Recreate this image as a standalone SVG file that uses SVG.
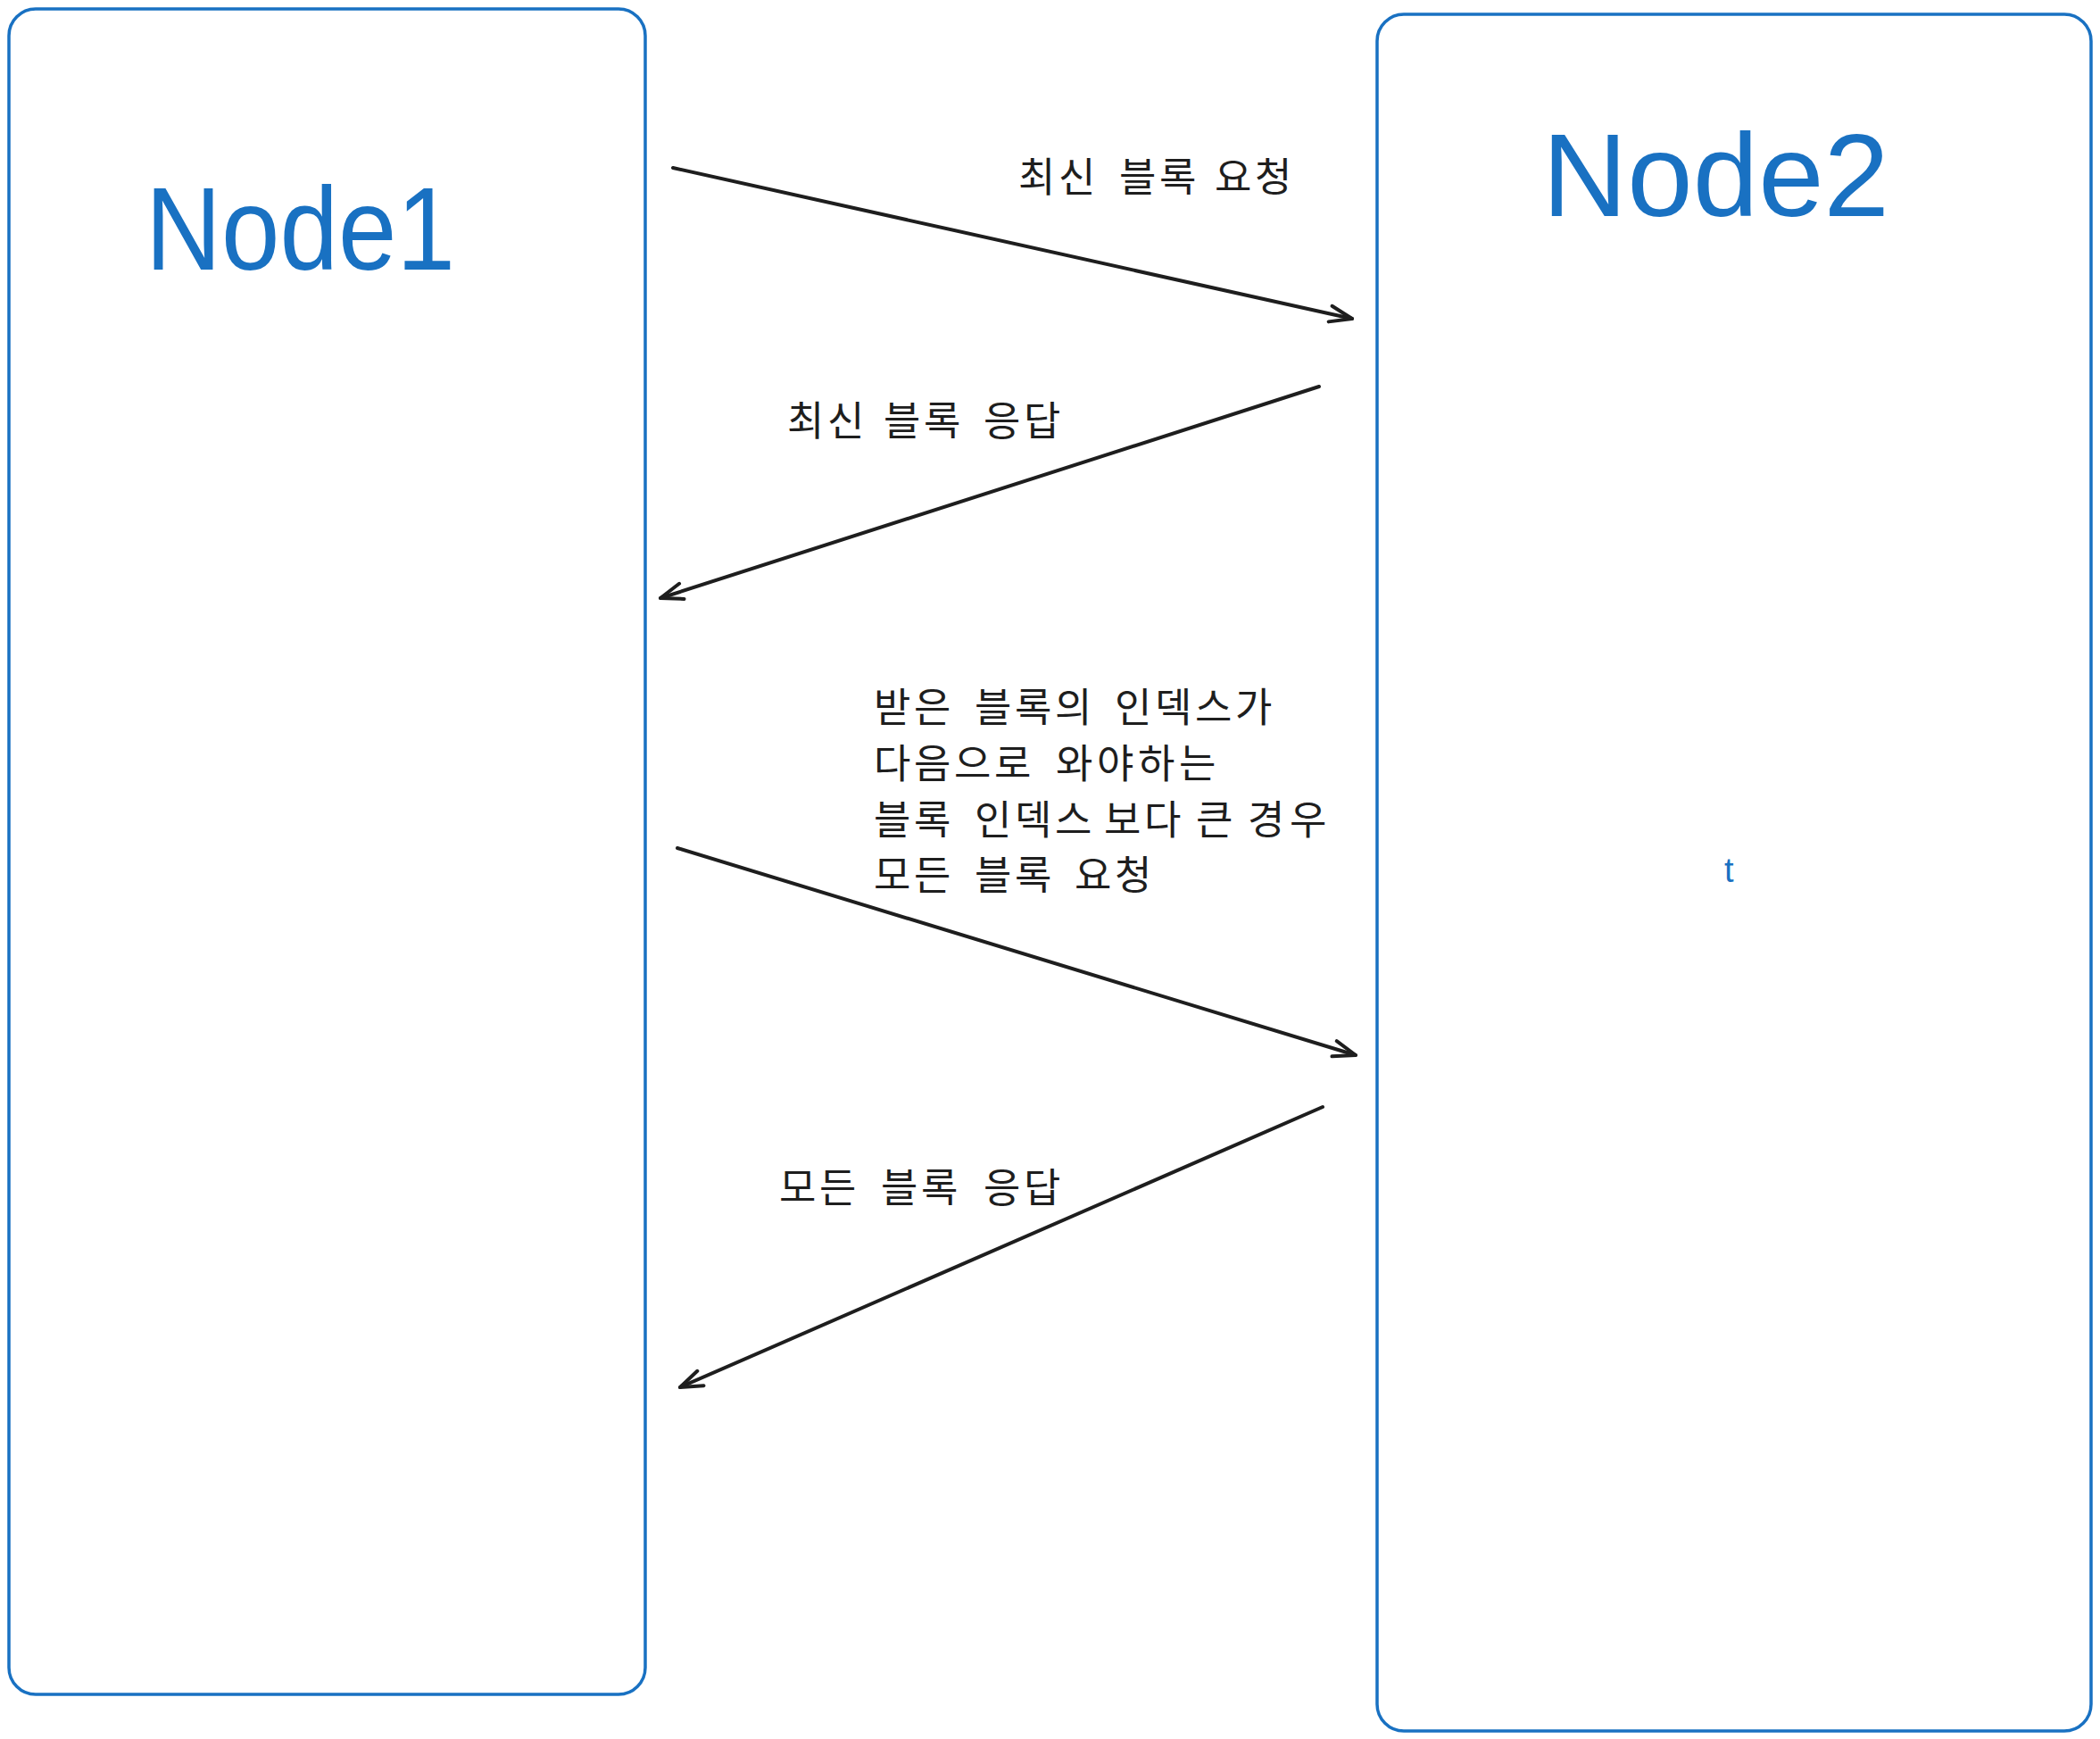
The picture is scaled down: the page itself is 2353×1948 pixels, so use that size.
<svg xmlns="http://www.w3.org/2000/svg" width="2353" height="1948" viewBox="0 0 2353 1948">
<style>
.node{fill:#ffffff;stroke:#1971c2;stroke-width:3.5}
.title{font-family:"Liberation Sans",Arial,sans-serif;font-size:132px;fill:#1971c2}
.small{font-family:"Liberation Sans",Arial,sans-serif;font-size:38px;fill:#1971c2}
.lbl{font-family:"Noto Sans CJK KR","Noto Sans",sans-serif;font-size:45px;fill:#1e1e1e}
.conn{stroke:#1e1e1e;stroke-width:4;fill:none;stroke-linecap:round}
</style>
<defs>
<marker id="ah" markerUnits="userSpaceOnUse" viewBox="-32 -16 40 32" markerWidth="40" markerHeight="32" refX="0" refY="0" orient="auto" overflow="visible">
<path d="M-25,-9 L0,0 L-25,9" fill="none" stroke="#1e1e1e" stroke-width="4" stroke-linecap="round" stroke-linejoin="round"/>
</marker>
</defs>
<rect width="2353" height="1948" fill="#ffffff"/>
<g id="node1">
<rect class="node" x="10" y="10" width="713" height="1888" rx="30" ry="30"/>
<text class="title" x="163" y="302" textLength="347" lengthAdjust="spacingAndGlyphs">Node1</text>
</g>
<g id="node2">
<rect class="node" x="1543" y="16" width="800" height="1923" rx="30" ry="30"/>
<text class="title" x="1728" y="242" textLength="389" lengthAdjust="spacingAndGlyphs">Node2</text>
<text class="small" x="1932" y="988">t</text>
</g>
<g id="connectors">
<line class="conn" x1="754" y1="188" x2="1515" y2="357" marker-end="url(#ah)"/>
<line class="conn" x1="1478" y1="433" x2="740" y2="670" marker-end="url(#ah)"/>
<line class="conn" x1="759" y1="950" x2="1519" y2="1182" marker-end="url(#ah)"/>
<line class="conn" x1="1482" y1="1240" x2="762" y2="1554" marker-end="url(#ah)"/>
</g>
<g id="labels">
<text class="lbl" y="215" x="1141 1186 1231 1254 1299 1344 1361 1406">최신 블록 요청</text>
<text class="lbl" y="488" x="882 927 972 990 1035 1080 1102 1147">최신 블록 응답</text>
<text class="lbl" y="809" x="979 1024 1069 1092 1137 1182 1227 1249 1294 1339 1384">받은 블록의 인덱스가</text>
<text class="lbl" y="872" x="979 1024 1069 1114 1159 1183 1229 1275 1321">다음으로 와야하는</text>
<text class="lbl" y="935" x="979 1024 1069 1092 1137 1182 1227 1237 1282 1327 1340 1385 1398 1445">블록 인덱스 보다 큰 경우</text>
<text class="lbl" y="997" x="979 1024 1069 1092 1137 1182 1204 1249">모든 블록 요청</text>
<text class="lbl" y="1347" x="873 918 963 987 1032 1077 1102 1147">모든 블록 응답</text>
</g>
</svg>
